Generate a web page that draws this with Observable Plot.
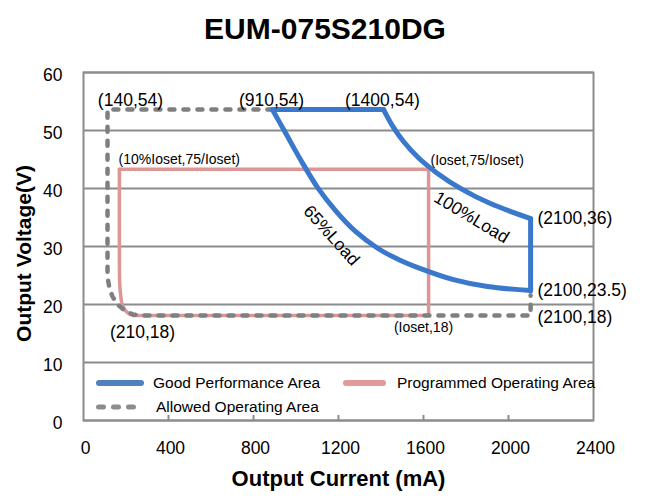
<!DOCTYPE html>
<html><head><meta charset="utf-8">
<script src="https://cdn.jsdelivr.net/npm/d3@7"></script>
<script src="https://cdn.jsdelivr.net/npm/@observablehq/plot@0.6"></script>
<style>
html,body{margin:0;padding:0;background:#fff;overflow:hidden;}
#wrap{position:relative;width:650px;height:501px;font-family:"Liberation Sans",Arial,sans-serif;}
#title{height:52px;text-align:center;font-weight:bold;font-size:30px;line-height:58px;color:#000;}
</style></head>
<body><div id="wrap"><div id="title">EUM-075S210DG</div><div id="chart"></div></div>
<script>
// ---- axis ticks ----
const xTicks = [0, 400, 800, 1200, 1600, 2000, 2400];
const yTicks = [0, 10, 20, 30, 40, 50, 60];

// ---- Good Performance Area (blue) ----
const goodTopI = [889, 1412];
const goodTopV = [53.6, 53.6];
const load100I = [1412, 1454, 1506, 1576, 1666, 1784, 1915, 2104];
const load100V = [53.6, 50.8, 48.1, 45.3, 42.6, 39.8, 37.4, 34.8];
const goodRightI = [2104, 2104];
const goodRightV = [34.8, 22.4];
const load65I = [2104, 1901, 1741, 1586, 1492, 1384, 1280, 1186, 1101, 1021, 955, 889];
const load65V = [22.4, 23.1, 24.3, 26.2, 27.6, 29.7, 32.6, 36.2, 40.2, 45.0, 49.3, 53.6];

// ---- Programmed Operating Area (pink) ----
const progTopI = [169, 1624];
const progTopV = [43.3, 43.3];
const progRightI = [1624, 1624];
const progRightV = [43.3, 18.1];
const progBottomI = [1624, 235];
const progBottomV = [18.1, 18.1];
const progLeftI = [235, 207, 184, 174, 170, 169, 169];
const progLeftV = [18.1, 18.6, 19.8, 21.9, 24.1, 28.0, 43.3];

// ---- Allowed Operating Area (grey dashed) ----
const allowI = [889, 113, 113, 122, 136, 160, 193, 231, 268, 2104, 2104];
const allowV = [53.6, 53.6, 24.7, 22.9, 21.4, 20.0, 19.0, 18.3, 18.1, 18.1, 21.6];

// ---- annotations ----
const centerLabels = ["(140,54)", "(910,54)", "(1400,54)", "(210,18)"];
const centerLabelI = [221, 885, 1407, 278];
const centerLabelV = [55.2, 55.2, 55.2, 15.2];
const rightLabels = ["(2100,36)", "(2100,23.5)", "(2100,18)"];
const rightLabelI = [2136, 2136, 2136];
const rightLabelV = [34.8, 22.4, 17.8];
const smallLabels = ["(10%Ioset,75/Ioset)", "(Ioset,75/Ioset)"];
const smallLabelI = [165, 1633];
const smallLabelV = [45.0, 44.8];
const smallCenterLabels = ["(Ioset,18)"];
const smallCenterI = [1600];
const smallCenterV = [16.0];
const loadLabels = ["65%Load", "100%Load"];
const loadLabelI = [1167, 1826];
const loadLabelV = [31.9, 35.0];
const loadLabelAngle = [48, 31];

const legendNames = ["Good Performance Area", "Programmed Operating Area", "Allowed Operating Area"];

// ---- build tables ----
const seg = (name, I, V) => I.map((x, i) => ({seg: name, I: x, V: V[i]}));
const good = [...seg("top", goodTopI, goodTopV), ...seg("100", load100I, load100V),
              ...seg("right", goodRightI, goodRightV), ...seg("65", load65I, load65V)];
const prog = [...seg("top", progTopI, progTopV), ...seg("right", progRightI, progRightV),
              ...seg("bottom", progBottomI, progBottomV), ...seg("left", progLeftI, progLeftV)];
const allowed = seg("a", allowI, allowV);
const lab = (T, I, V, extra) => T.map((t, i) => Object.assign({t, I: I[i], V: V[i]}, extra ? extra(i) : {}));

const FONT = '"Liberation Sans", Arial, sans-serif';
const BLUE = "#3a78cc", PINK = "#dc9696", GREY = "#7f7f7f", GRID = "#8c8c8c";
const W = 650, H = 449, ML = 83, MR = 57, MT = 20, MB = 81;

const chart = Plot.plot({
  width: W, height: H,
  marginLeft: ML, marginRight: MR, marginTop: MT, marginBottom: MB,
  style: {fontFamily: FONT, fontSize: "17.5px", color: "#000", background: "#fff", overflow: "visible"},
  x: {domain: [0, 2400]},
  y: {domain: [0, 60]},
  marks: [
    Plot.gridY(yTicks, {stroke: GRID, strokeOpacity: 1, strokeWidth: 2}),
    Plot.frame({stroke: GRID, strokeWidth: 2}),
    Plot.tickX(xTicks.slice(1, -1), {x: d => d, stroke: GRID, strokeWidth: 2, insetTop: H - MT - MB - 5}),
    Plot.axisX(xTicks, {tickSize: 0, tickPadding: 21, dx: 2, tickFormat: d => String(d), fontSize: 17.5, label: null}),
    Plot.axisY(yTicks, {tickSize: 0, tickPadding: 21, dy: 3, tickFormat: d => String(d), fontSize: 17.5, label: null}),
    Plot.line(prog, {x: "I", y: "V", z: "seg", curve: "catmull-rom", stroke: PINK, strokeWidth: 3.5}),
    Plot.line(allowed, {x: "I", y: "V", curve: "linear", stroke: GREY, strokeWidth: 4.5,
                        strokeDasharray: "5,9", strokeLinecap: "round", strokeLinejoin: "round"}),
    Plot.line(good, {x: "I", y: "V", z: "seg", curve: "catmull-rom", stroke: BLUE, strokeWidth: 5,
                     strokeLinecap: "round", strokeLinejoin: "round"}),
    Plot.text(lab(centerLabels, centerLabelI, centerLabelV), {x: "I", y: "V", text: "t", fontSize: 17.5, fill: "#000"}),
    Plot.text(lab(rightLabels, rightLabelI, rightLabelV), {x: "I", y: "V", text: "t", fontSize: 17.5, textAnchor: "start", fill: "#000"}),
    Plot.text(lab(smallLabels, smallLabelI, smallLabelV), {x: "I", y: "V", text: "t", fontSize: 14, textAnchor: "start", fill: "#000"}),
    Plot.text(lab(smallCenterLabels, smallCenterI, smallCenterV), {x: "I", y: "V", text: "t", fontSize: 14, fill: "#000"}),
    Plot.text(lab(loadLabels, loadLabelI, loadLabelV, i => ({a: loadLabelAngle[i]})), {x: "I", y: "V", text: "t", rotate: "a", fontSize: 17.5, fill: "#000"}),
    Plot.text(["Output Current (mA)"], {frameAnchor: "bottom", lineAnchor: "middle", textAnchor: "middle", dy: 58, fontWeight: "bold", fontSize: 22, fill: "#000"}),
    Plot.text(["Output Voltage(V)"], {frameAnchor: "left", textAnchor: "middle", lineAnchor: "middle", dx: -59, dy: 7, rotate: -90, fontWeight: "bold", fontSize: 21, fill: "#000"})
  ]
});
document.getElementById("chart").appendChild(chart);

// ---- legend (inside plot area, lower left) ----
const svg = d3.select(chart);
const lg = svg.append("g").attr("font-family", FONT).attr("font-size", 15.5).attr("fill", "#000").attr("text-anchor", "start");
const rows = [
  {x1: 99, x2: 141, y: 331, stroke: "#4f81bd", w: 6, dash: null, tx: 153, name: legendNames[0]},
  {x1: 346, x2: 383, y: 331, stroke: "#e09a9a", w: 6, dash: null, tx: 397, name: legendNames[1]},
  {x1: 98.5, x2: 134.5, y: 355, stroke: "#8c8c8c", w: 5, dash: "5,10", tx: 156, name: legendNames[2]}
];
rows.forEach(r => {
  const l = lg.append("line").attr("x1", r.x1).attr("x2", r.x2).attr("y1", r.y).attr("y2", r.y)
    .attr("stroke", r.stroke).attr("stroke-width", r.w).attr("stroke-linecap", "round");
  if (r.dash) l.attr("stroke-dasharray", r.dash);
  lg.append("text").attr("x", r.tx).attr("y", r.y).attr("dy", "0.35em").attr("text-anchor", "start").text(r.name);
});
</script></body></html>
